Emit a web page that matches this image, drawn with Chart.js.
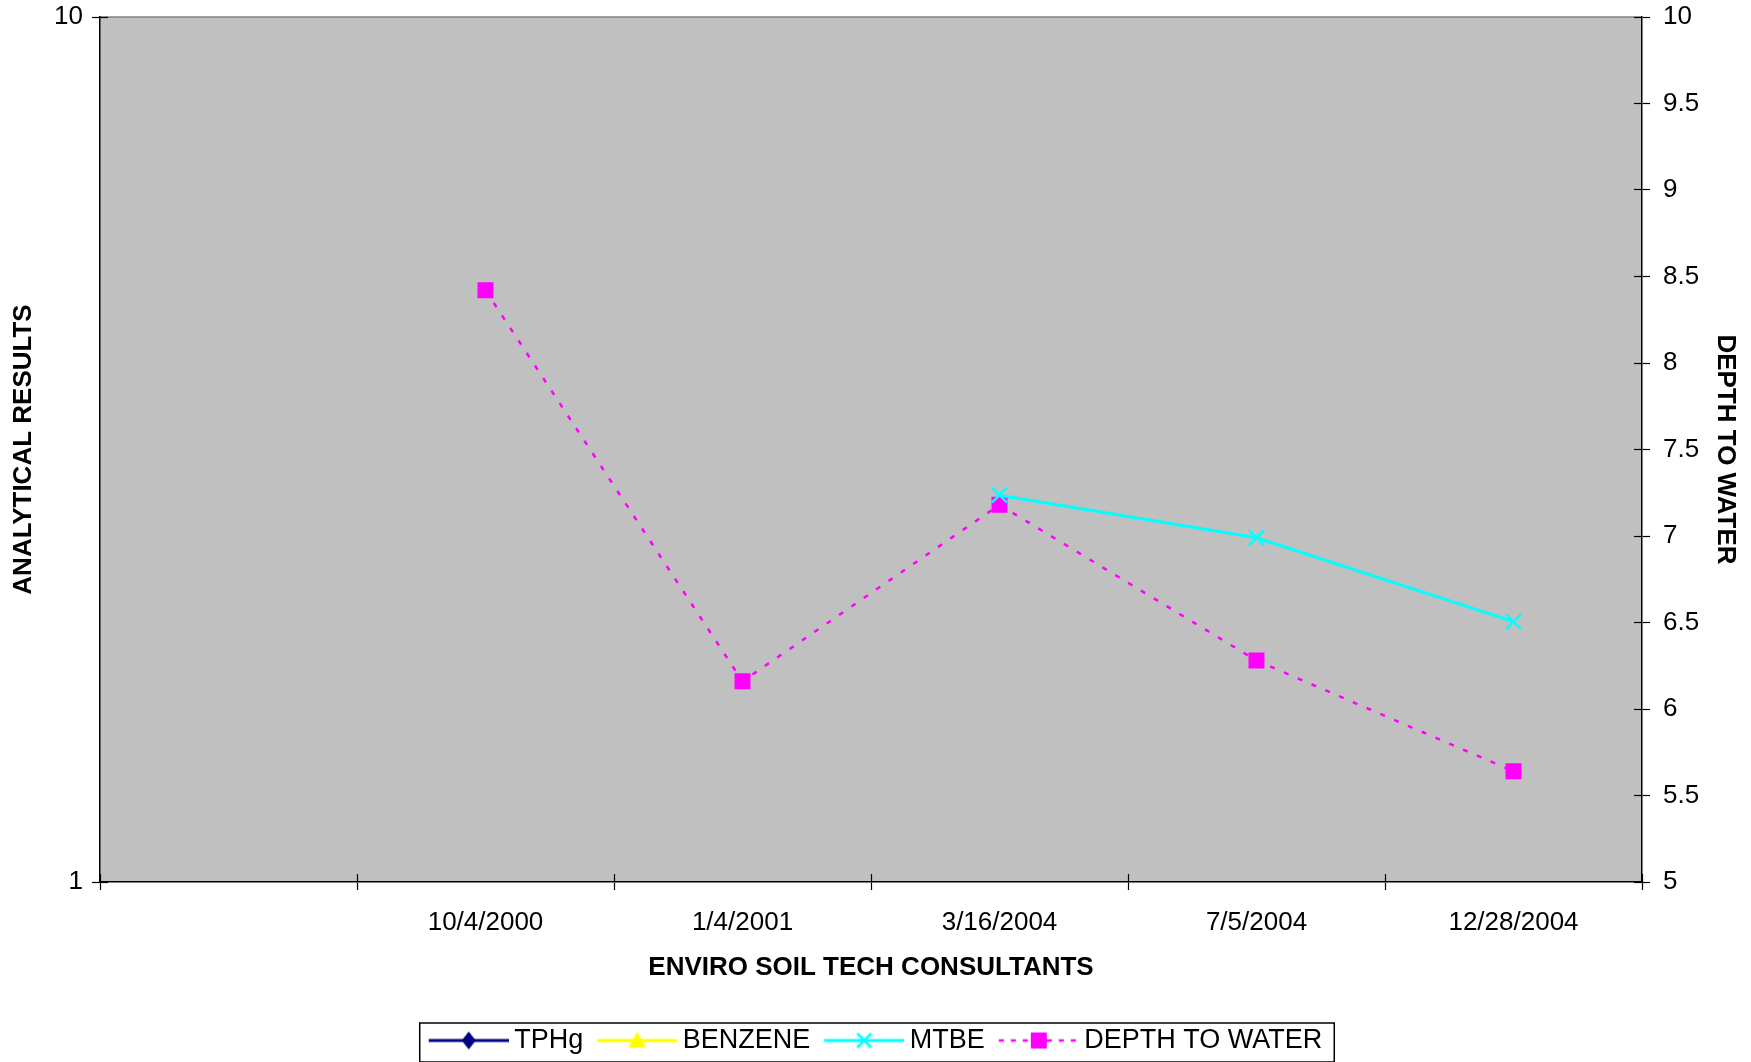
<!DOCTYPE html>
<html>
<head>
<meta charset="utf-8">
<script src="https://cdn.jsdelivr.net/npm/chart.js@4/dist/chart.umd.min.js"></script>
<style>
  html, body { margin: 0; padding: 0; background: #fff; }
  #wrap { width: 1751px; height: 1062px; }
</style>
</head>
<body>
<div id="wrap"><canvas id="depthChart" width="1751" height="1062"></canvas></div>
<script>
const sampleDates = ["", "10/4/2000", "1/4/2001", "3/16/2004", "7/5/2004", "12/28/2004"];
const tphgValues = [null, null, null, null, null, null];
const benzeneValues = [null, null, null, null, null, null];
const mtbeValues = [null, null, null, 2.8, 2.5, 2.0];
const depthValues = [null, 8.42, 6.16, 7.18, 6.28, 5.64];
const leftTicks = [1, 10];

const FONT = "'Liberation Sans', Arial, sans-serif";

// little line+marker picture for each legend entry
function legendSample(color, marker, dashed) {
  const c = document.createElement("canvas");
  c.width = 88;
  c.height = 28;
  const ctx = c.getContext("2d");
  ctx.strokeStyle = color;
  ctx.fillStyle = color;
  ctx.lineWidth = dashed ? 2.5 : 3;
  ctx.setLineDash(dashed ? [5, 7] : []);
  ctx.beginPath();
  ctx.moveTo(8, 14);
  ctx.lineTo(88, 14);
  ctx.stroke();
  ctx.setLineDash([]);
  const x = 48, y = 14;
  ctx.beginPath();
  if (marker === "diamond") {
    ctx.moveTo(x, y - 9); ctx.lineTo(x + 7, y); ctx.lineTo(x, y + 9); ctx.lineTo(x - 7, y);
    ctx.closePath(); ctx.fill();
  } else if (marker === "triangle") {
    ctx.moveTo(x, y - 9); ctx.lineTo(x + 9, y + 7); ctx.lineTo(x - 9, y + 7);
    ctx.closePath(); ctx.fill();
  } else if (marker === "x") {
    ctx.lineWidth = 2.5;
    ctx.moveTo(x - 7, y - 7); ctx.lineTo(x + 7, y + 7);
    ctx.moveTo(x + 7, y - 7); ctx.lineTo(x - 7, y + 7);
    ctx.stroke();
  } else {
    ctx.fillRect(x - 8, y - 8, 16, 16);
  }
  return c;
}

const samples = [
  legendSample("#000080", "diamond", false),
  legendSample("#FFFF00", "triangle", false),
  legendSample("#00FFFF", "x", false),
  legendSample("#FF00FF", "square", true)
];

const plotBackground = {
  id: "plotBackground",
  afterLayout(chart) {
    // nudge the legend a couple of px lower, like the original
    const lg = chart.legend;
    lg.top += 2;
    lg.bottom += 2;
    (lg.legendHitBoxes || []).forEach((b) => { b.top += 2; });
  },
  beforeDraw(chart) {
    const { ctx, chartArea } = chart;
    ctx.save();
    ctx.fillStyle = "#C0C0C0";
    ctx.fillRect(chartArea.left, chartArea.top, chartArea.right - chartArea.left, chartArea.bottom - chartArea.top);
    ctx.strokeStyle = "#808080";
    ctx.lineWidth = 1.5;
    ctx.beginPath();
    ctx.moveTo(chartArea.left, chartArea.top);
    ctx.lineTo(chartArea.right, chartArea.top);
    ctx.stroke();
    ctx.restore();
  },
  afterDraw(chart) {
    const ctx = chart.ctx;
    ctx.save();
    ctx.strokeStyle = "#000";
    ctx.lineWidth = 1.2;
    // tick marks also poke into the plot
    ["x", "y", "y2"].forEach((id) => {
      const scale = chart.scales[id];
      const items = scale._gridLineItems || [];
      items.forEach((it) => {
        ctx.beginPath();
        if (id === "x") {
          ctx.moveTo(it.tx1, scale.top);
          ctx.lineTo(it.tx1, scale.top - 8);
        } else if (id === "y") {
          ctx.moveTo(scale.right, it.ty1);
          ctx.lineTo(scale.right + 8, it.ty1);
        } else {
          ctx.moveTo(scale.left, it.ty1);
          ctx.lineTo(scale.left - 8, it.ty1);
        }
        ctx.stroke();
      });
    });
    // frame around the legend
    const boxes = chart.legend.legendHitBoxes;
    if (boxes && boxes.length) {
      const first = boxes[0];
      const last = boxes[boxes.length - 1];
      const left = first.left - 9;
      const right = last.left + last.width + 12;
      const midY = first.top + first.height / 2;
      ctx.lineWidth = 1.5;
      ctx.strokeRect(left, midY - 19.5, right - left, 39);
    }
    ctx.restore();
  }
};

const chart = new Chart(document.getElementById("depthChart").getContext("2d"), {
  type: "line",
  data: {
    labels: sampleDates,
    datasets: [
      { label: "TPHg", data: tphgValues, yAxisID: "y", borderColor: "#000080", backgroundColor: "#000080", pointStyle: "rectRot" },
      { label: "BENZENE", data: benzeneValues, yAxisID: "y", borderColor: "#FFFF00", backgroundColor: "#FFFF00", pointStyle: "triangle" },
      {
        label: "MTBE", data: mtbeValues, yAxisID: "y",
        borderColor: "#00FFFF", backgroundColor: "#00FFFF", borderWidth: 3,
        pointStyle: "crossRot", pointRadius: 10.6, pointBorderWidth: 2.5
      },
      {
        label: "DEPTH TO WATER", data: depthValues, yAxisID: "y2",
        borderColor: "#FF00FF", backgroundColor: "#FF00FF", borderWidth: 2.5, borderDash: [5, 10],
        pointStyle: "rect", pointRadius: 11.3, pointBorderWidth: 0
      }
    ]
  },
  options: {
    responsive: false,
    animation: false,
    layout: { padding: { top: 17, right: 0, bottom: 0, left: 0 } },
    elements: { line: { tension: 0 } },
    plugins: {
      tooltip: { enabled: false },
      legend: {
        position: "bottom",
        labels: {
          usePointStyle: true,
          pointStyleWidth: 72,
          padding: 14,
          color: "#000",
          font: { family: FONT, size: 27, lineHeight: 1.2 },
          generateLabels(chart) {
            return chart.data.datasets.map((ds, i) => ({
              text: ds.label,
              pointStyle: samples[i],
              fillStyle: ds.borderColor,
              strokeStyle: ds.borderColor,
              lineWidth: 0,
              fontColor: "#000",
              datasetIndex: i,
              hidden: false
            }));
          }
        }
      }
    },
    scales: {
      x: {
        type: "category",
        offset: true,
        grid: { offset: true, drawOnChartArea: false, tickLength: 8, color: "#000", tickWidth: 1.2 },
        border: { display: true, color: "#000", width: 1.5 },
        ticks: { color: "#000", font: { family: FONT, size: 26, lineHeight: 1.2 }, padding: 17, maxRotation: 0, autoSkip: false },
        title: {
          display: true, text: "ENVIRO SOIL TECH CONSULTANTS", color: "#000",
          font: { family: FONT, size: 26, weight: "bold", lineHeight: 1.2 },
          padding: { top: 0, bottom: 28 }
        },
        afterFit(scale) { scale.height = 129; }
      },
      y: {
        type: "logarithmic",
        position: "left",
        min: 1,
        max: 10,
        grid: { drawOnChartArea: false, tickLength: 8, color: "#000", tickWidth: 1.2 },
        border: { display: true, color: "#000", width: 1.5 },
        afterBuildTicks(scale) { scale.ticks = leftTicks.map((v) => ({ value: v })); },
        ticks: { color: "#000", font: { family: FONT, size: 26, lineHeight: 1.2 }, padding: 9, callback: (v) => String(v) },
        title: {
          display: true, text: "ANALYTICAL RESULTS", color: "#000",
          font: { family: FONT, size: 26, weight: "bold", lineHeight: 1.2 },
          padding: { top: 8 }
        },
        afterFit(scale) { scale.width = 100; scale.paddingTop = 0; scale.paddingBottom = 0; }
      },
      y2: {
        type: "linear",
        position: "right",
        min: 5,
        max: 10,
        grid: { drawOnChartArea: false, tickLength: 8, color: "#000", tickWidth: 1.2 },
        border: { display: true, color: "#000", width: 1.5 },
        ticks: { stepSize: 0.5, color: "#000", font: { family: FONT, size: 26, lineHeight: 1.2 }, padding: 13, callback: (v) => String(v) },
        title: {
          display: true, text: "DEPTH TO WATER", color: "#000",
          font: { family: FONT, size: 26, weight: "bold", lineHeight: 1.2 },
          padding: { top: 10 }
        },
        afterFit(scale) { scale.width = 109; scale.paddingTop = 0; scale.paddingBottom = 0; }
      }
    }
  },
  plugins: [plotBackground]
});
</script>
</body>
</html>
